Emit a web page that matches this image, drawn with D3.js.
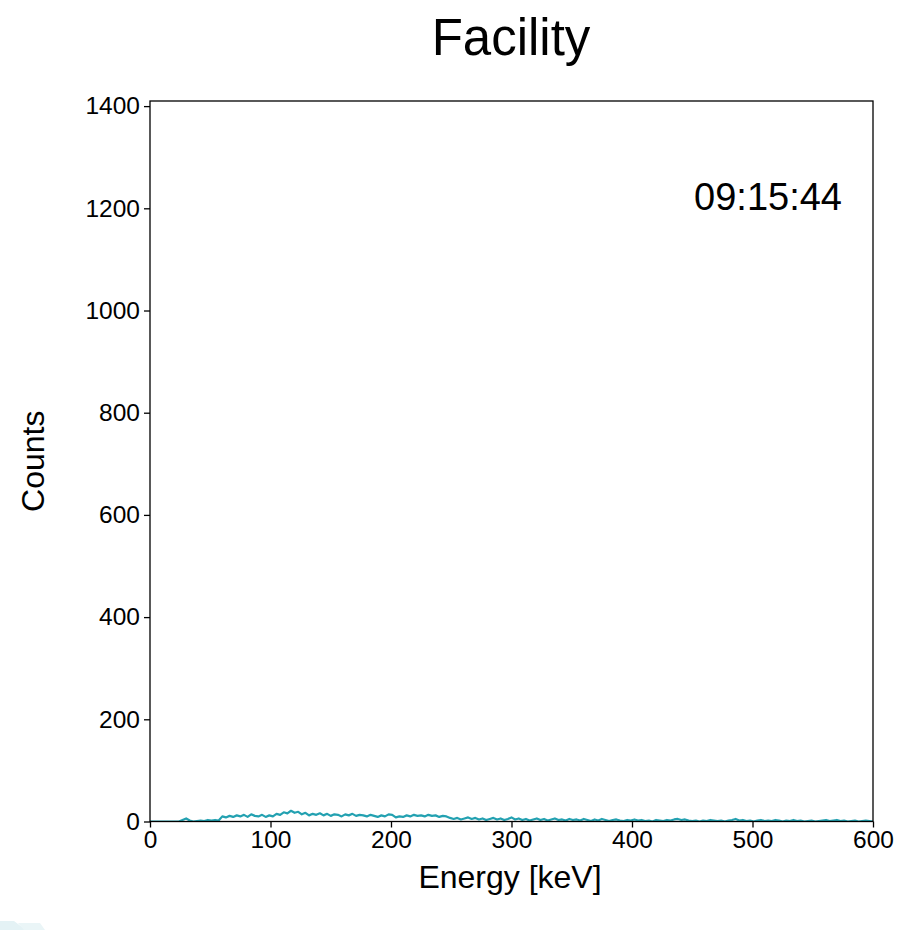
<!DOCTYPE html>
<html>
<head>
<meta charset="utf-8">
<script src="https://cdn.jsdelivr.net/npm/d3@7"></script>
<style>
  html, body { margin: 0; padding: 0; background: #ffffff; }
  svg { display: block; font-family: "Liberation Sans", Arial, Helvetica, sans-serif; }
</style>
</head>
<body>
<svg id="chart" width="910" height="930"></svg>
<script>
// Spectrum: counts per energy bin, bins every 3 keV starting at 0 keV
const binStart = 0;
const binWidth = 3;
const counts = [
  0, 0, 0, 0, 0, 0, 0, 0, 0,
  3, 6, 2, 0, 1, 2, 1, 3, 2, 3, 2,
  10, 8, 11, 9, 12, 10, 13, 9, 14, 11, 10, 13, 9, 12,
  10, 15, 13, 18, 16, 21, 17, 19, 14, 17,
  12, 15, 13, 16, 12, 15, 11, 14, 13, 10, 14, 12, 15, 11, 13, 12, 10, 13, 11, 9, 12, 10, 14, 13, 8,
  10, 9, 12, 10, 13, 11, 12, 10, 13, 11, 12, 9, 11, 10, 7,
  5, 7, 4, 6, 8, 5, 7, 4, 6, 3, 5, 7, 4, 6, 3, 5, 8,
  4, 6, 3, 5, 2, 4, 6, 3, 5, 2, 4, 6, 3, 4, 2, 5, 3, 4, 2, 5, 3, 1, 4, 2, 5, 3, 1, 3, 4, 2, 1, 3, 2,
  4, 2, 3, 1, 2, 0, 3, 2, 1, 3, 2, 4, 5, 3, 4, 2, 1, 2, 0, 2, 1, 3, 2, 1, 2, 0, 2, 3, 5, 2, 3, 1, 2, 0,
  2, 3, 1, 2, 1, 3, 2, 0, 2, 1, 3, 1, 2, 0, 1, 2, 0, 1, 2, 3, 1, 2, 3, 1, 2, 0, 1, 2, 0, 1, 2, 1, 0
];
const xTicks = [0, 100, 200, 300, 400, 500, 600];
const yTicks = [0, 200, 400, 600, 800, 1000, 1200, 1400];
const titleText = "Facility";
const timeText = "09:15:44";
const xLabel = "Energy [keV]";
const yLabel = "Counts";

const svg = d3.select("#chart");
const plot = { left: 150, right: 873, top: 101, bottom: 821.5 };

const x = d3.scaleLinear().domain([0, 600]).range([plot.left, plot.right]);
const y = d3.scaleLinear().domain([0, 1410]).range([plot.bottom, plot.top]);

// faint decoration in the lower-left corner
const deco = svg.append("g").attr("fill", "#e4f2f5");
deco.append("path").attr("d", "M0,921 L14,921 L26,930 L0,930 Z");
deco.append("path").attr("d", "M18,923 L40,923 L45,930 L24,930 Z").attr("fill", "#eaf5f7");

// spectrum line
const pts = counts.map((c, i) => [binStart + i * binWidth, c]);
const clipId = "plot-clip";
svg.append("clipPath").attr("id", clipId)
  .append("rect")
  .attr("x", plot.left).attr("y", plot.top)
  .attr("width", plot.right - plot.left).attr("height", plot.bottom - plot.top);

svg.append("path")
  .datum(pts)
  .attr("clip-path", "url(#" + clipId + ")")
  .attr("fill", "none")
  .attr("stroke", "#23a1b1")
  .attr("stroke-width", 2.2)
  .attr("stroke-linejoin", "round")
  .attr("d", d3.line().x(d => x(d[0])).y(d => y(d[1])));

// axes
const xAxis = svg.append("g")
  .attr("transform", `translate(0,${plot.bottom})`)
  .call(d3.axisBottom(x).tickValues(xTicks).tickSize(6).tickPadding(3).tickFormat(d3.format("d")));
const yAxis = svg.append("g")
  .attr("transform", `translate(${plot.left},0)`)
  .call(d3.axisLeft(y).tickValues(yTicks).tickSize(6).tickPadding(4).tickFormat(d3.format("d")));

[xAxis, yAxis].forEach(g => {
  g.select(".domain").remove();
  g.selectAll(".tick line").attr("stroke", "#000").attr("stroke-width", 1.3);
  g.selectAll(".tick text").attr("fill", "#000").style("font-size", "24.5px")
    .style("font-family", "'Liberation Sans', Arial, Helvetica, sans-serif");
});

// frame
svg.append("rect")
  .attr("x", plot.left).attr("y", plot.top)
  .attr("width", plot.right - plot.left).attr("height", plot.bottom - plot.top)
  .attr("fill", "none").attr("stroke", "#000").attr("stroke-width", 1.3);

// title
svg.append("text")
  .attr("x", 511).attr("y", 55)
  .attr("text-anchor", "middle")
  .style("font-size", "51px")
  .text(titleText);

// timestamp
svg.append("text")
  .attr("x", 842).attr("y", 210)
  .attr("text-anchor", "end")
  .style("font-size", "38px")
  .text(timeText);

// axis labels
svg.append("text")
  .attr("x", 510).attr("y", 888)
  .attr("text-anchor", "middle")
  .style("font-size", "32px")
  .text(xLabel);

svg.append("text")
  .attr("transform", `translate(44,${(plot.top + plot.bottom) / 2}) rotate(-90)`)
  .attr("text-anchor", "middle")
  .style("font-size", "32px")
  .text(yLabel);
</script>
</body>
</html>
